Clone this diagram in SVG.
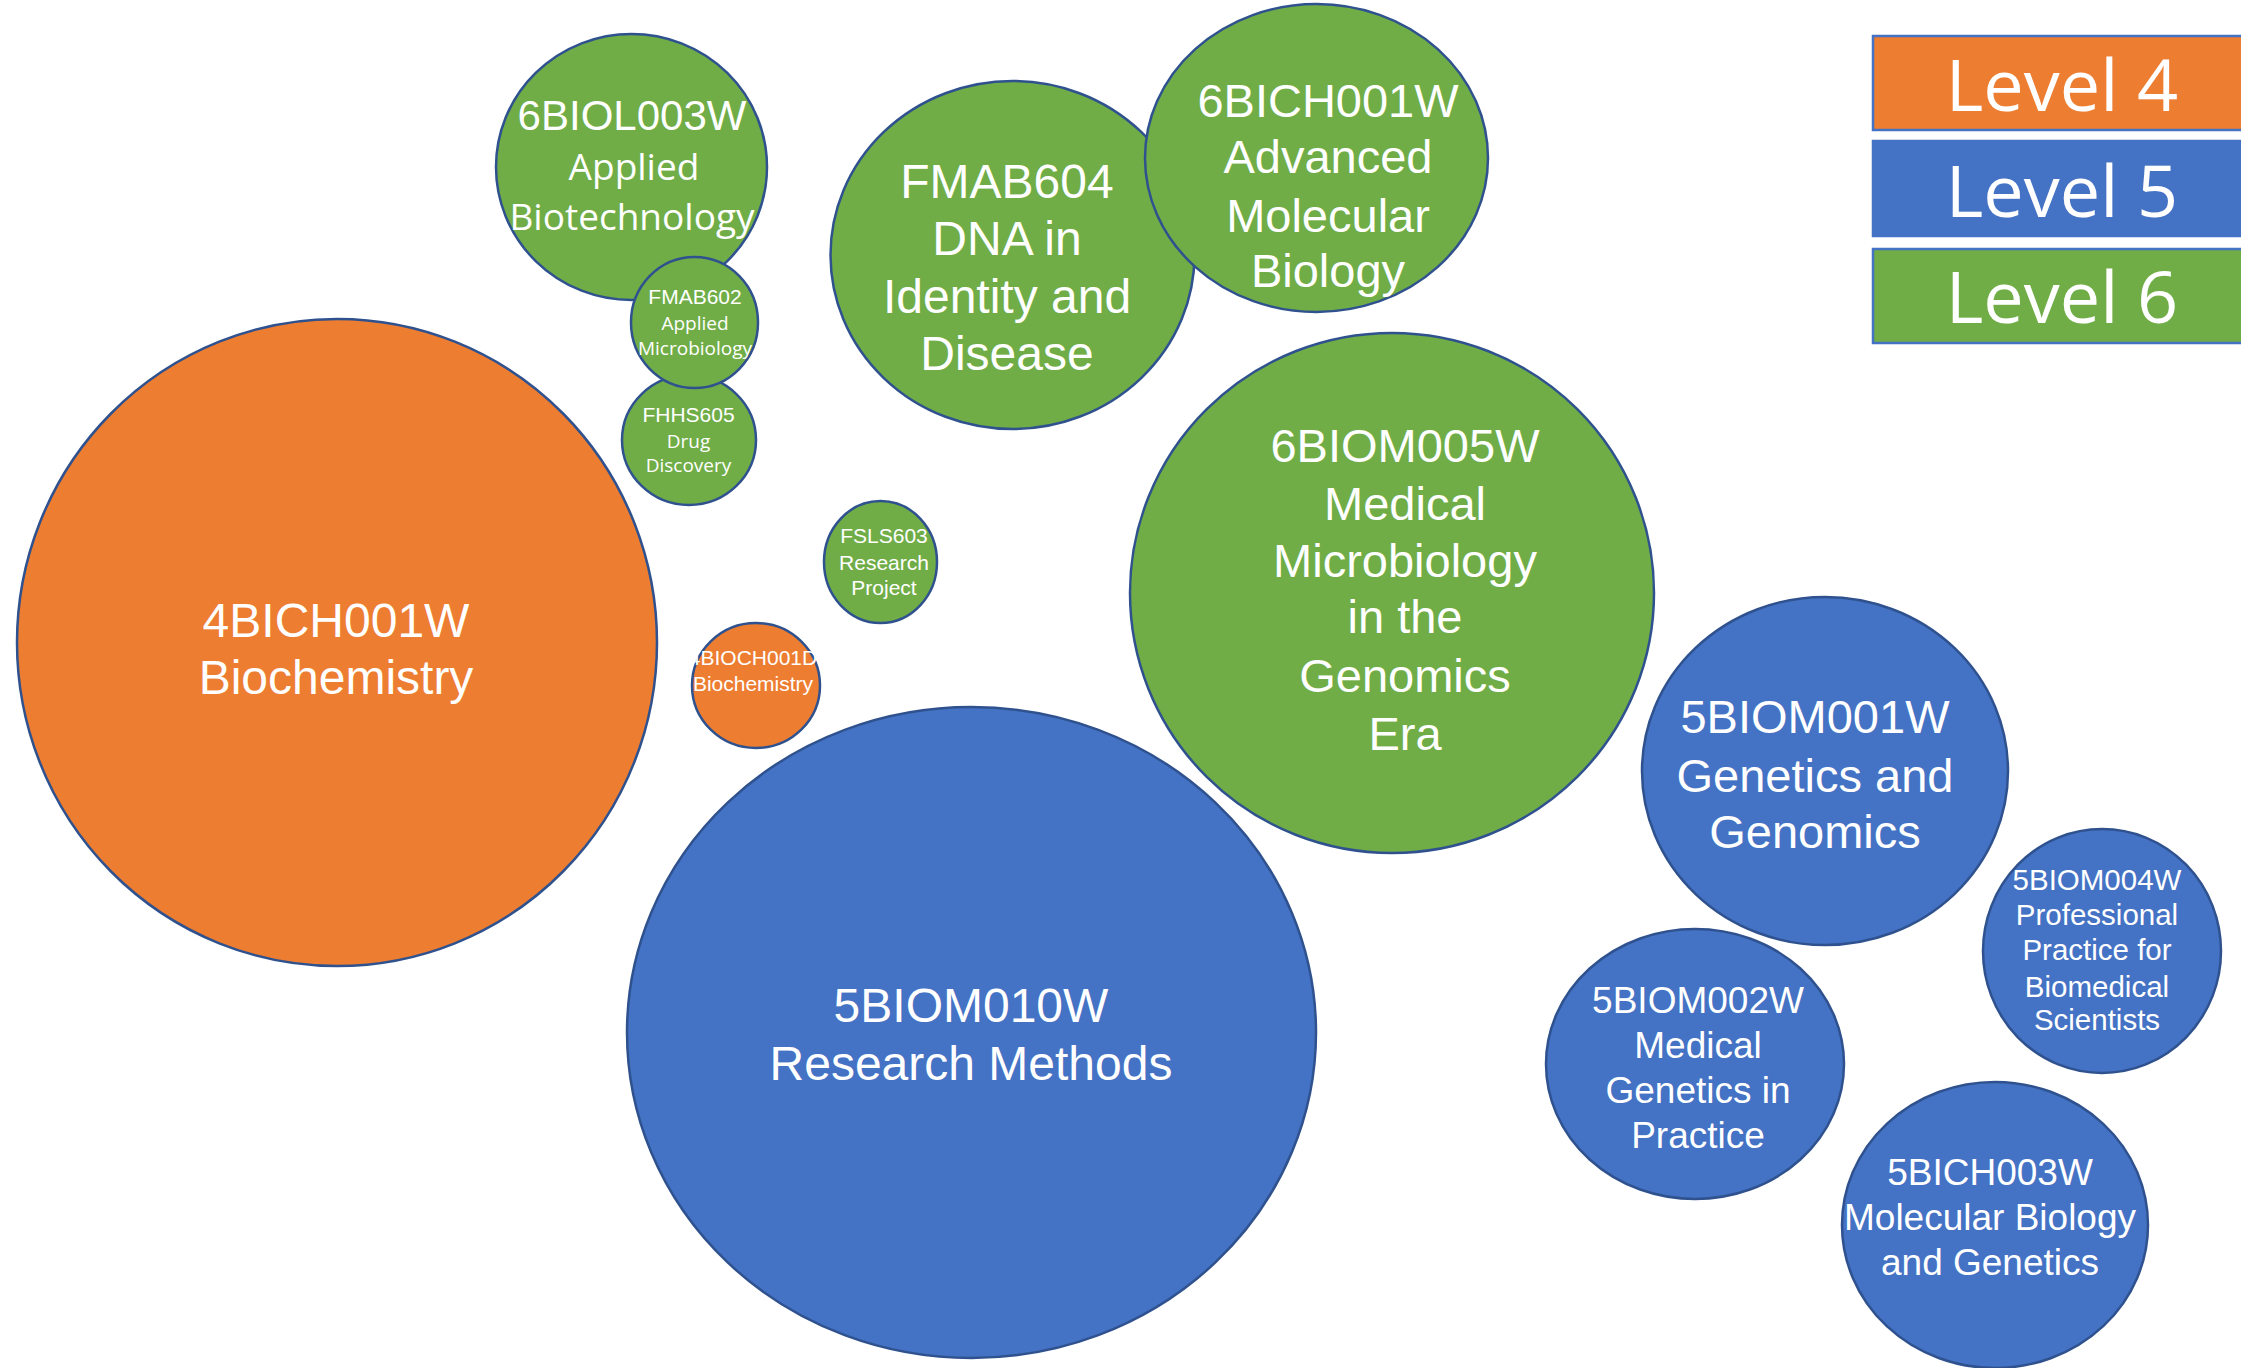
<svg xmlns="http://www.w3.org/2000/svg" width="2241" height="1368" viewBox="0 0 2241 1368">
<style>
.l4{fill:#ED7D31}.l5{fill:#4472C4}.l6{fill:#70AD47}
.c{stroke:#2F528F;stroke-width:2.5}
.t{fill:#fff;font-family:"Liberation Sans",Arial,sans-serif;text-anchor:middle}
.k{fill:#fff;font-family:"Open Sans","Noto Sans",sans-serif;text-anchor:middle}
.lg{stroke:#4472C4;stroke-width:2.5}
</style>
<rect width="2241" height="1368" fill="#fff"/>
<g id="connectors"/>
<g id="n-4BICH001W">
<ellipse class="c l4" cx="337" cy="642.5" rx="320" ry="323.5"/>
<text class="t" font-size="48"><tspan x="336" y="637">4BICH001W</tspan><tspan x="336" y="694">Biochemistry</tspan></text>
</g>
<g id="n-6BIOL003W">
<ellipse class="c l6" cx="631.5" cy="167" rx="135.5" ry="133"/>
<text class="t" font-size="42" x="632" y="130">6BIOL003W</text>
<text class="k" font-size="37"><tspan x="634" y="180">Applied</tspan><tspan x="632" y="230">Biotechnology</tspan></text>
</g>
<g id="n-FHHS605">
<ellipse class="c l6" cx="689" cy="440" rx="67" ry="65"/>
<text class="t" font-size="21" x="688.5" y="422">FHHS605</text>
<text class="k" font-size="19"><tspan x="688.5" y="448">Drug</tspan><tspan x="688.5" y="472">Discovery</tspan></text>
</g>
<g id="n-FMAB602">
<ellipse class="c l6" cx="694.5" cy="322.5" rx="63.5" ry="65.5"/>
<text class="t" font-size="21" x="695" y="304">FMAB602</text>
<text class="k" font-size="19"><tspan x="695" y="330">Applied</tspan><tspan x="695" y="355">Microbiology</tspan></text>
</g>
<g id="n-FSLS603">
<ellipse class="c l6" cx="880.5" cy="562" rx="56.5" ry="61"/>
<text class="t" font-size="21"><tspan x="884" y="543">FSLS603</tspan><tspan x="884" y="570">Research</tspan><tspan x="884" y="595">Project</tspan></text>
</g>
<g id="n-4BIOCH001D">
<ellipse class="c l4" cx="756" cy="685.5" rx="64" ry="62.5"/>
<text class="t" font-size="21"><tspan x="753" y="665">4BIOCH001D</tspan><tspan x="753" y="691">Biochemistry</tspan></text>
</g>
<g id="n-FMAB604">
<ellipse class="c l6" cx="1012.5" cy="255" rx="182" ry="174"/>
<text class="t" font-size="48"><tspan x="1007" y="198">FMAB604</tspan><tspan x="1007" y="255">DNA in</tspan><tspan x="1007" y="313">Identity and</tspan><tspan x="1007" y="370">Disease</tspan></text>
</g>
<g id="n-6BICH001W">
<ellipse class="c l6" cx="1316.5" cy="158" rx="171.5" ry="154"/>
<text class="t" font-size="47"><tspan x="1328" y="117">6BICH001W</tspan><tspan x="1328" y="173">Advanced</tspan><tspan x="1328" y="232">Molecular</tspan><tspan x="1328" y="287">Biology</tspan></text>
</g>
<g id="n-6BIOM005W">
<ellipse class="c l6" cx="1392" cy="593" rx="262" ry="260"/>
<text class="t" font-size="47"><tspan x="1405" y="462">6BIOM005W</tspan><tspan x="1405" y="520">Medical</tspan><tspan x="1405" y="577">Microbiology</tspan><tspan x="1405" y="633">in the</tspan><tspan x="1405" y="692">Genomics</tspan><tspan x="1405" y="750">Era</tspan></text>
</g>
<g id="n-5BIOM010W">
<ellipse class="c l5" cx="971.5" cy="1032.5" rx="344.5" ry="325.5"/>
<text class="t" font-size="48"><tspan x="971" y="1022">5BIOM010W</tspan><tspan x="971" y="1080">Research Methods</tspan></text>
</g>
<g id="n-5BIOM001W">
<ellipse class="c l5" cx="1825" cy="771" rx="183" ry="174"/>
<text class="t" font-size="47"><tspan x="1815" y="733">5BIOM001W</tspan><tspan x="1815" y="792">Genetics and</tspan><tspan x="1815" y="848">Genomics</tspan></text>
</g>
<g id="n-5BIOM002W">
<ellipse class="c l5" cx="1695" cy="1064" rx="149" ry="135"/>
<text class="t" font-size="37"><tspan x="1698" y="1013">5BIOM002W</tspan><tspan x="1698" y="1058">Medical</tspan><tspan x="1698" y="1103">Genetics in</tspan><tspan x="1698" y="1148">Practice</tspan></text>
</g>
<g id="n-5BIOM004W">
<ellipse class="c l5" cx="2102" cy="951" rx="119" ry="122"/>
<text class="t" font-size="29.5"><tspan x="2097" y="890">5BIOM004W</tspan><tspan x="2097" y="925">Professional</tspan><tspan x="2097" y="960">Practice for</tspan><tspan x="2097" y="997">Biomedical</tspan><tspan x="2097" y="1030">Scientists</tspan></text>
</g>
<g id="n-5BICH003W">
<ellipse class="c l5" cx="1995" cy="1225" rx="153" ry="143"/>
<text class="t" font-size="37"><tspan x="1990" y="1185">5BICH003W</tspan><tspan x="1990" y="1230">Molecular Biology</tspan><tspan x="1990" y="1275">and Genetics</tspan></text>
</g>
<g id="legend">
<g id="legend-4"><rect class="lg l4" x="1873" y="36" width="380" height="94"/><text class="k" font-size="72" x="2062" y="111">Level 4</text></g>
<g id="legend-5"><rect class="lg l5" x="1873" y="141" width="380" height="95"/><text class="k" font-size="72" x="2062" y="217">Level 5</text></g>
<g id="legend-6"><rect class="lg l6" x="1873" y="249" width="380" height="94"/><text class="k" font-size="72" x="2062" y="323">Level 6</text></g>
</g>
</svg>
